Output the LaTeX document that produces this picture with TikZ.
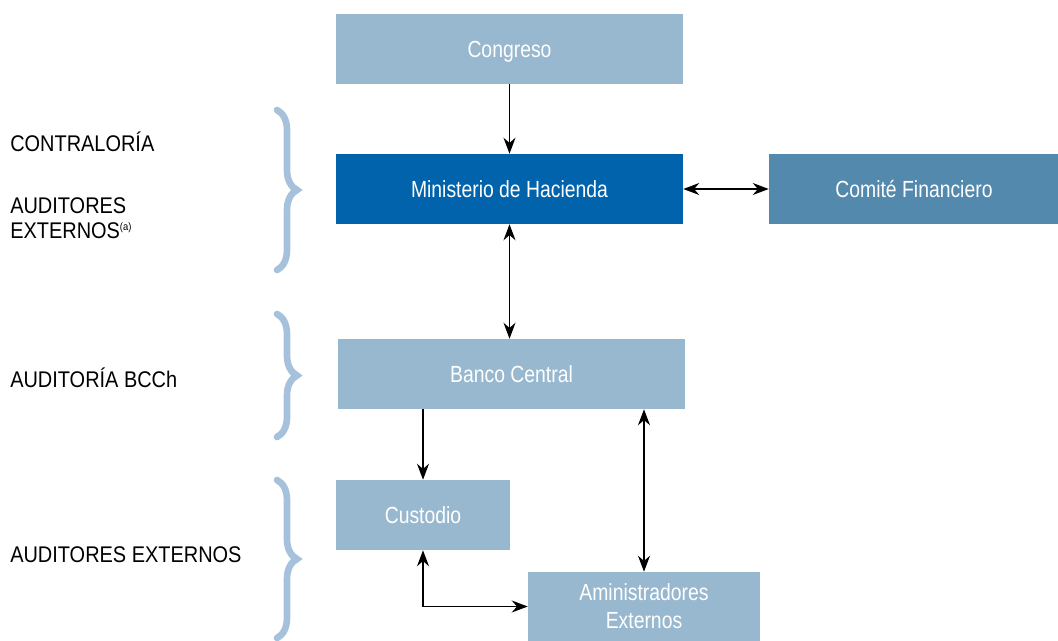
\documentclass[tikz,border=0pt]{standalone}
\usepackage{fontspec}
\setmainfont{Liberation Sans}[FakeStretch=0.83]
\newfontfamily\rotulofont{Liberation Sans}[FakeStretch=0.88]
\usetikzlibrary{arrows.meta,decorations.pathreplacing}

\definecolor{celeste}{HTML}{97B8CF}
\definecolor{azul}{HTML}{0063AC}
\definecolor{azulmedio}{HTML}{5389AD}
\definecolor{llave}{HTML}{A6C1DC}

\newdimen\px
\px=0.75pt

\tikzset{
  caja/.style={fill=celeste, text=white, align=center, inner sep=0pt, text depth=0pt,
    minimum height={70*\px}, font=\fontsize{17.5}{21}\selectfont},
  flecha/.style={-{Stealth[length=12pt,width=9pt]}, line width=1pt},
  dflecha/.style={{Stealth[length=12pt,width=9pt]}-{Stealth[length=12pt,width=9pt]}, line width=1pt},
  rotulo/.style={anchor=west, inner sep=0pt, align=left,
    font=\rotulofont\fontsize{17}{19}\selectfont},
  llaveazul/.style={draw=llave, line width=5pt, line cap=round,
    decorate, decoration={brace, amplitude=15pt}}
}

\begin{document}
\begin{tikzpicture}[x=0.75pt, y=-0.75pt]
  \useasboundingbox (0,0) rectangle (1058,640);

  % cajas
  \node[caja, minimum width={347*\px}] (congreso) at (509.5,49) {Congreso};
  \node[caja, fill=azul, minimum width={347*\px}] (hacienda) at (509.5,189) {Ministerio de Hacienda};
  \node[caja, fill=azulmedio, minimum width={290*\px}] (comite) at (914,189) {Comité Financiero};
  \node[caja, minimum width={347*\px}] (banco) at (511.5,374) {Banco Central};
  \node[caja, minimum width={174*\px}] (custodio) at (423,515) {Custodio};
  \node[caja, minimum width={232*\px}, minimum height={69*\px}] (admin) at (644,606.5) {Aministradores\\Externos};

  % rotulos
  \node[rotulo] (contraloria) at (10,142) {CONTRALORÍA};
  \node[rotulo] (auditores) at (10,218) {AUDITORES\\EXTERNOS\textsuperscript{\fontsize{8}{8}\selectfont(a)}};
  \node[rotulo] (auditoria) at (10,378) {AUDITORÍA BCCh};
  \node[rotulo] (externos) at (10,555) {AUDITORES EXTERNOS};

  % llaves
  \draw[llaveazul] (277,110) -- (277,270);
  \draw[llaveazul] (277,314) -- (277,437);
  \draw[llaveazul] (277,480) -- (277,638);

  % flechas
  \draw[flecha] (congreso) -- (hacienda);
  \draw[dflecha] (hacienda) -- (comite);
  \draw[dflecha] (hacienda.south) -- (hacienda.south |- banco.north);
  \draw[flecha] (custodio.north |- banco.south) -- (custodio.north);
  \draw[dflecha] (admin.north |- banco.south) -- (admin.north);
  \draw[dflecha] (custodio.south) |- (admin.west);
\end{tikzpicture}
\end{document}
